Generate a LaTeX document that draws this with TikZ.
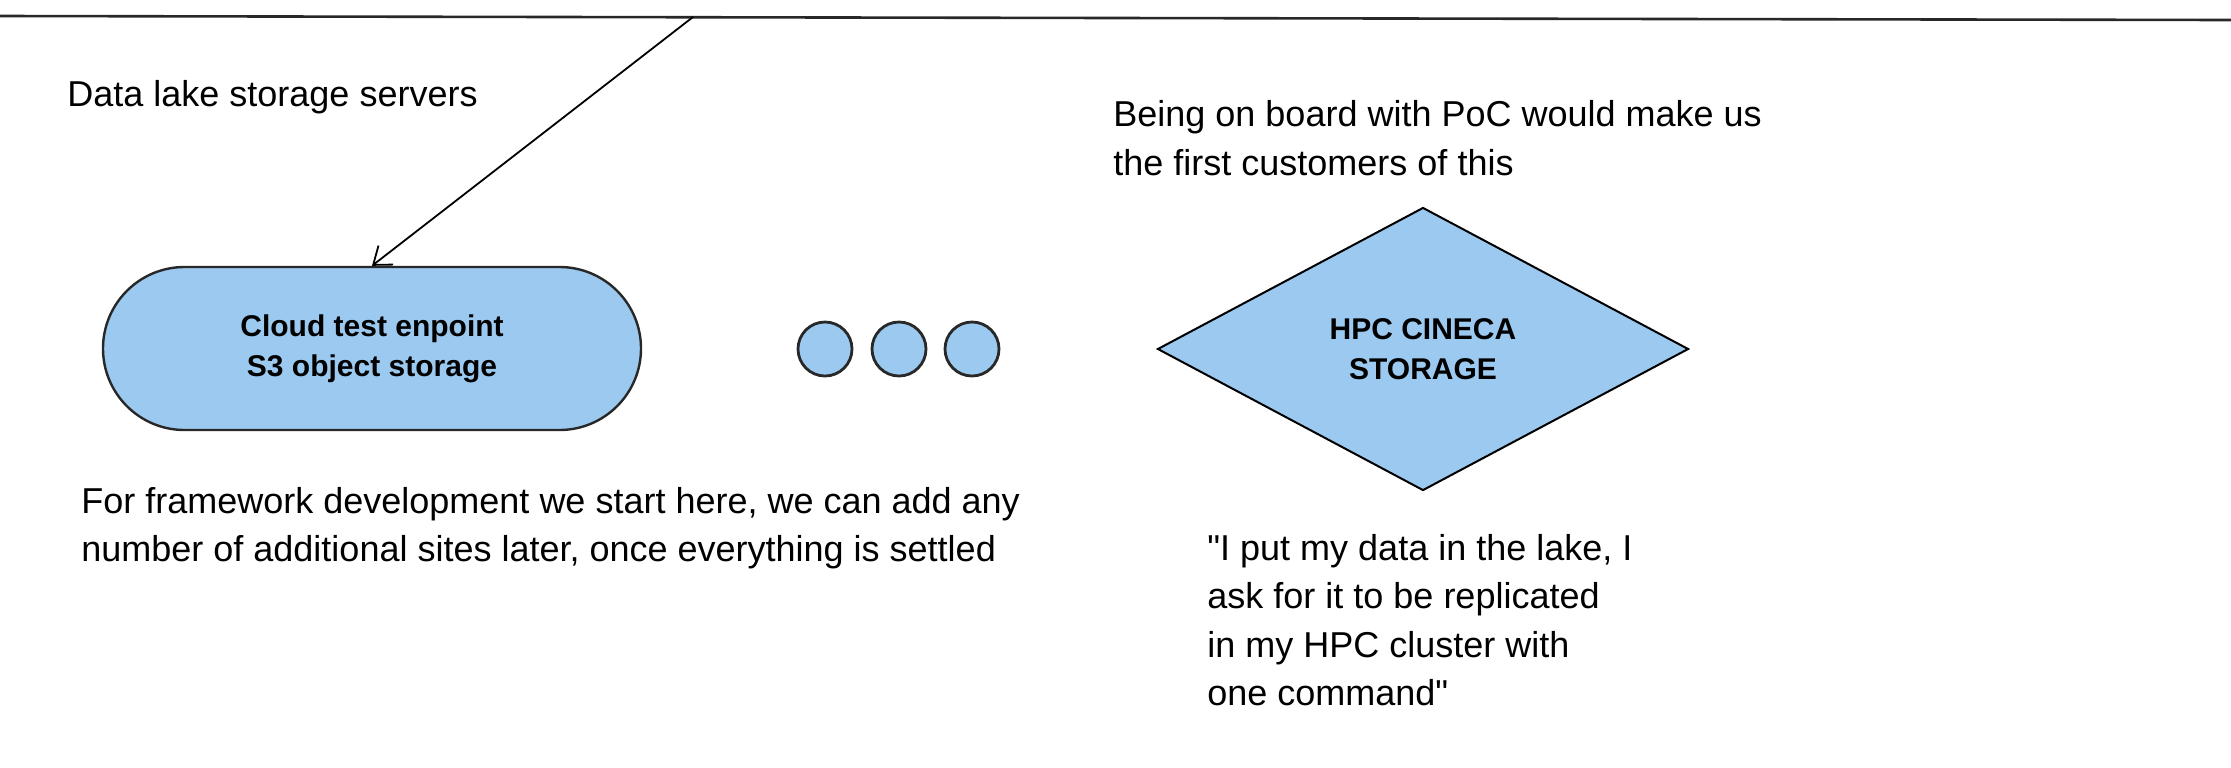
\documentclass[tikz,border=0pt]{standalone}
\usepackage{fontspec}
\setmainfont{Liberation Sans}
\usepackage{tikz}
\usetikzlibrary{shapes.geometric, arrows.meta, calc}
\definecolor{storeblue}{RGB}{155,201,239}
\definecolor{edgegray}{RGB}{40,40,40}
\tikzstyle{endpoint} = [rectangle, rounded corners=40.75pt, minimum width=269pt, minimum height=81.5pt, text centered, align=center, draw=edgegray, line width=1.2pt, fill=storeblue, font=\fontsize{15}{20}\selectfont\bfseries]
\tikzstyle{site} = [diamond, minimum width=265.5pt, minimum height=141.5pt, inner sep=0pt, text centered, align=center, draw=black, line width=1pt, fill=storeblue, font=\fontsize{15}{20}\selectfont\bfseries]
\tikzstyle{dot} = [circle, minimum size=27pt, inner sep=0pt, draw=edgegray, line width=1.4pt, fill=storeblue]
\tikzstyle{note} = [anchor=west, align=left, inner sep=0pt, font=\fontsize{18}{24.2}\selectfont]
\tikzstyle{arrow} = [line width=0.9pt,-{Straight Barb[length=8pt, width=12pt]}]

\begin{document}
\begin{tikzpicture}[x=0.5pt, y=-0.5pt]

    \useasboundingbox (0,0) rectangle (2231,767);

    % lake line along the top
    \coordinate (lake_left) at (0,16);
    \coordinate (lake_right) at (2231,20);
    \coordinate (lake_tap) at (693,17);

    \draw [line width=1.3pt, draw=edgegray] (lake_left) -- (lake_right);

    \node (lake_label) [note] at (67,97) {Data lake storage servers};

    \node (cloud_endpoint) [endpoint] at (372,348.5) {Cloud test enpoint\\S3 object storage};

    \node (more_sites_a) [dot] at (825,349) {};
    \node (more_sites_b) [dot] at (899,349) {};
    \node (more_sites_c) [dot] at (972,349) {};

    \node (hpc_storage) [site] at (1423,349) {HPC CINECA\\STORAGE};

    \node (poc_note) [note] at (1113,138) {Being on board with PoC would make us\\the first customers of this};

    \node (framework_note) [note] at (81,528) {For framework development we start here, we can add any\\number of additional sites later, once everything is settled};

    \node (quote_note) [note] at (1207,620) {\textquotedbl I put my data in the lake, I\\ask for it to be replicated\\in my HPC cluster with\\one command\textquotedbl};

    \draw [arrow] (lake_tap) -- (cloud_endpoint.north);

\end{tikzpicture}
\end{document}
